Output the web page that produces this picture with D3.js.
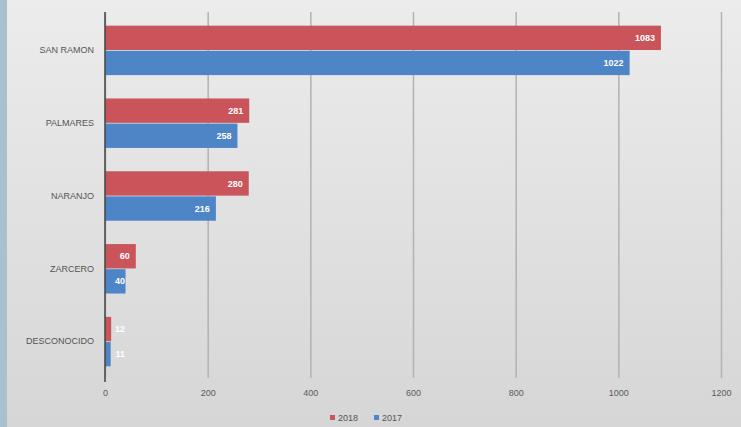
<!DOCTYPE html>
<html>
<head>
<meta charset="utf-8">
<script src="https://cdn.jsdelivr.net/npm/d3@7"></script>
<style>
  body { margin: 0; padding: 0; overflow: hidden; }
  svg { display: block; font-family: "Liberation Sans", "DejaVu Sans", sans-serif; }
</style>
</head>
<body>
<svg id="chart" width="741" height="427"></svg>
<script>
// categorías y valores
const categories = ["SAN RAMON", "PALMARES", "NARANJO", "ZARCERO", "DESCONOCIDO"];
const values2018 = [1083, 281, 280, 60, 12];
const values2017 = [1022, 258, 216, 40, 11];
const seriesNames = ["2018", "2017"];
const xTicks = [0, 200, 400, 600, 800, 1000, 1200];

const width = 741, height = 427;
const margin = { top: 12, right: 20, bottom: 49, left: 105 };
const colors = { "2018": "#c9545a", "2017": "#4d85c6" };

const svg = d3.select("#chart");

// fondo
const defs = svg.append("defs");
const grad = defs.append("linearGradient").attr("id", "bg").attr("x1", 0).attr("y1", 0).attr("x2", 0).attr("y2", 1);
grad.append("stop").attr("offset", "0%").attr("stop-color", "#ececec");
grad.append("stop").attr("offset", "100%").attr("stop-color", "#d6d6d6");
svg.append("rect").attr("width", width).attr("height", height).attr("fill", "url(#bg)");
svg.append("rect").attr("width", 7).attr("height", height).attr("fill", "#a9c0cd");

/* Escalas -------------------------------*/
const xScale = d3.scaleLinear()
    .domain([0, 1200])
    .range([margin.left, margin.left + 616]);

const yScale = d3.scaleBand()
    .domain(categories)
    .range([margin.top + 2, height - margin.bottom])
    .paddingInner(0.3)
    .paddingOuter(0.15);

const ySub = d3.scaleBand()
    .domain(seriesNames)
    .range([0, yScale.bandwidth()])
    .padding(0.03);

// grid
const xAxis = d3.axisBottom(xScale)
    .tickValues(xTicks)
    .tickFormat(d3.format("d"))
    .tickSize(-(height - margin.bottom - margin.top))
    .tickPadding(12);

const gx = svg.append("g")
    .attr("class", "x-axis")
    .attr("transform", `translate(0, ${height - margin.bottom})`)
    .call(xAxis);
gx.select(".domain").remove();
gx.selectAll("line").attr("stroke", "#b2b2b2").attr("stroke-width", 1.5);
gx.selectAll("text").attr("fill", "#5a5a5a").attr("font-size", 9);

const yAxis = d3.axisLeft(yScale).tickSize(0).tickPadding(10);
const gy = svg.append("g")
    .attr("class", "y-axis")
    .attr("transform", `translate(${margin.left - 1}, 0)`)
    .call(yAxis);
gy.select(".domain").remove();
gy.selectAll("text").attr("fill", "#555").attr("font-size", 9);

/* Barras -------------------------------*/
const rows = categories.map((c, i) => ({ cat: c, vals: [
  { key: "2018", v: values2018[i] },
  { key: "2017", v: values2017[i] }
]}));

const groups = svg.selectAll(".grp")
  .data(rows)
  .join("g")
  .attr("class", "grp")
  .attr("transform", d => `translate(0, ${yScale(d.cat)})`);

groups.selectAll("rect")
  .data(d => d.vals)
  .join("rect")
  .attr("x", xScale(0))
  .attr("y", d => ySub(d.key))
  .attr("width", d => xScale(d.v) - xScale(0))
  .attr("height", ySub.bandwidth())
  .attr("fill", d => colors[d.key]);

groups.selectAll("text")
  .data(d => d.vals)
  .join("text")
  .attr("x", d => Math.max(xScale(d.v) - 6, xScale(0) + 20))
  .attr("y", d => ySub(d.key) + ySub.bandwidth() / 2)
  .attr("dy", "0.35em")
  .attr("text-anchor", "end")
  .attr("fill", "#ffffff")
  .attr("font-size", 9)
  .attr("font-weight", "bold")
  .text(d => d.v);

// eje en cero
svg.append("line")
  .attr("x1", xScale(0)).attr("x2", xScale(0))
  .attr("y1", margin.top).attr("y2", height - margin.bottom + 4)
  .attr("stroke", "#444").attr("stroke-width", 1.5);

/* Leyenda -------------------------------*/
const legend = svg.append("g").attr("transform", `translate(330, 418)`);
const li = legend.selectAll("g")
  .data(seriesNames)
  .join("g")
  .attr("transform", (d, i) => `translate(${i * 44}, 0)`);
li.append("rect").attr("x", 0).attr("y", -3).attr("width", 5).attr("height", 5).attr("fill", d => colors[d]);
li.append("text").attr("x", 8).attr("y", 0).attr("dy", "0.35em")
  .attr("font-size", 9).attr("fill", "#555").text(d => d);
</script>
</body>
</html>
